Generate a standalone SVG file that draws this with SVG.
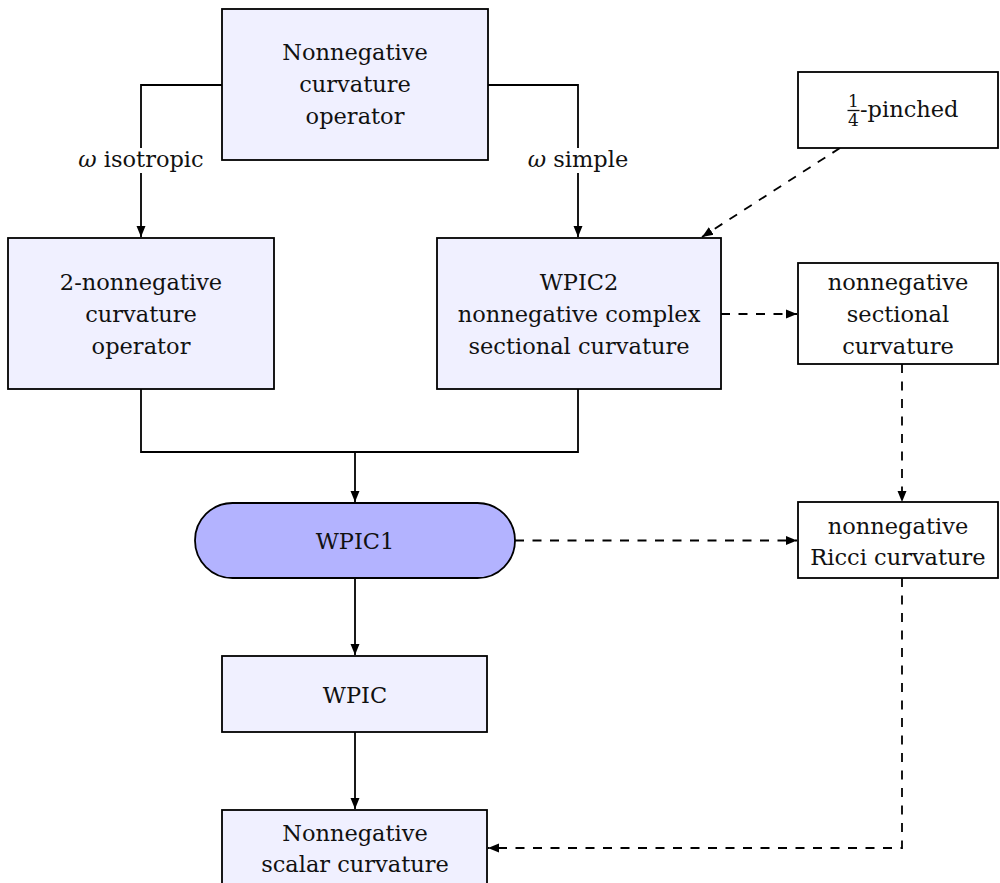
<svg xmlns="http://www.w3.org/2000/svg" width="1000" height="883" viewBox="0 0 1000 883" font-family="DejaVu Serif, serif">
<defs>
<style>
.box{fill:#f0f0ff;stroke:#000;stroke-width:1.8}
.wbox{fill:#fff;stroke:#000;stroke-width:1.8}
.pill{fill:#b3b3ff;stroke:#000;stroke-width:1.8}
text{font-family:'DejaVu Serif',serif;font-size:22.5px;fill:#111;text-anchor:middle}
.c{fill:none;stroke:#000;stroke-width:1.8}
.d{fill:none;stroke:#000;stroke-width:1.8;stroke-dasharray:9 8.5}
</style>
<marker id="ah" markerUnits="userSpaceOnUse" markerWidth="12" markerHeight="10" refX="11" refY="5" orient="auto">
<path d="M0,0.5 L11,5 L0,9.5 z" fill="#000"/>
</marker>
</defs>
<g id="connectors">
<path class="c" d="M222,85 H141 V237" marker-end="url(#ah)"/>
<path class="c" d="M488,85 H578 V237" marker-end="url(#ah)"/>
<path class="c" d="M141,389 V452 H578 V389"/>
<path class="c" d="M355,452 V502" marker-end="url(#ah)"/>
<path class="c" d="M355,578 V655" marker-end="url(#ah)"/>
<path class="c" d="M355,732 V809" marker-end="url(#ah)"/>
<path class="d" d="M840,148 L702,237" marker-end="url(#ah)"/>
<path class="d" d="M721,314 H797" marker-end="url(#ah)"/>
<path class="d" d="M902,364 V502" marker-end="url(#ah)"/>
<path class="d" d="M515,540.5 H797" marker-end="url(#ah)"/>
<path class="d" d="M902,578 V848 H488" marker-end="url(#ah)"/>
<g id="label-isotropic">
<rect x="72" y="148" width="138" height="25" fill="#fff"/>
<text x="141" y="167"><tspan font-style="italic">ω</tspan> isotropic</text>
</g>
<g id="label-simple">
<rect x="523" y="148" width="110" height="25" fill="#fff"/>
<text x="578" y="167"><tspan font-style="italic">ω</tspan> simple</text>
</g>
</g>
<g id="n-curvop">
<rect class="box" x="222" y="9" width="266" height="151"/>
<text x="355" y="60">Nonnegative</text>
<text x="355" y="92">curvature</text>
<text x="355" y="124">operator</text>
</g>
<g id="n-2nonneg">
<rect class="box" x="8" y="238" width="266" height="151"/>
<text x="141" y="290">2-nonnegative</text>
<text x="141" y="322">curvature</text>
<text x="141" y="354">operator</text>
</g>
<g id="n-wpic2">
<rect class="box" x="437" y="238" width="284" height="151"/>
<text x="579" y="290">WPIC2</text>
<text x="579" y="322">nonnegative complex</text>
<text x="579" y="354">sectional curvature</text>
</g>
<g id="n-pinched">
<rect class="wbox" x="798" y="72" width="200" height="76"/>
<text x="853.5" y="107" style="font-size:17px">1</text>
<line x1="847.5" y1="110.5" x2="859.5" y2="110.5" stroke="#111" stroke-width="1.3"/>
<text x="853.5" y="125.5" style="font-size:17px">4</text>
<text x="860" y="117" style="text-anchor:start">-pinched</text>
</g>
<g id="n-sectional">
<rect class="wbox" x="798" y="263" width="200" height="101"/>
<text x="898" y="290">nonnegative</text>
<text x="898" y="322">sectional</text>
<text x="898" y="354">curvature</text>
</g>
<g id="n-ricci">
<rect class="wbox" x="798" y="502" width="200" height="76"/>
<text x="898" y="534">nonnegative</text>
<text x="898" y="565">Ricci curvature</text>
</g>
<g id="n-wpic1">
<rect class="pill" x="195" y="503" width="320" height="75" rx="37.5" ry="37.5"/>
<text x="355" y="549">WPIC1</text>
</g>
<g id="n-wpic">
<rect class="box" x="222" y="656" width="265" height="76"/>
<text x="355" y="703">WPIC</text>
</g>
<g id="n-scalar">
<rect class="box" x="222" y="810" width="265" height="77"/>
<text x="355" y="841">Nonnegative</text>
<text x="355" y="872">scalar curvature</text>
</g>
</svg>
